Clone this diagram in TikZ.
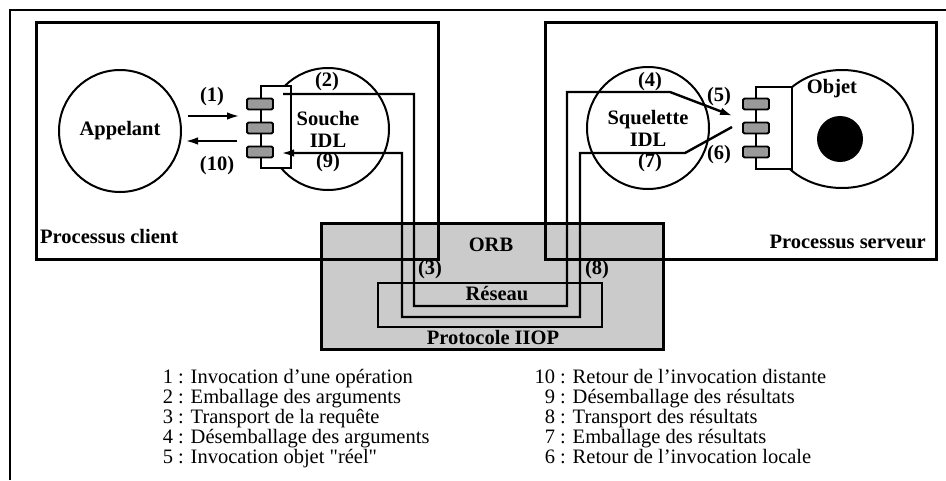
\documentclass[tikz,border=0pt]{standalone}
\usepackage{fontspec}
\setmainfont{Liberation Serif}
\usetikzlibrary{arrows.meta,calc,positioning,shapes.geometric}
\definecolor{OrbGray}{HTML}{CBCBCB}
\definecolor{PortGray}{HTML}{9A9A9A}
\newcommand{\labf}{\fontsize{20.5}{22}\selectfont\bfseries}
\newcommand{\legf}{\fontsize{20.5}{21}\selectfont}
\newcommand{\qd}{{\addfontfeature{Ligatures=TeXOff}"}}

\begin{document}
\begin{tikzpicture}[x=1pt,y=-1pt,
  box/.style={draw,line width=3.2pt,inner sep=0pt,anchor=north west},
  bubble/.style={draw,circle,line width=2pt,minimum size=122pt,inner sep=0pt,font=\labf,align=center},
  stubbox/.style={draw,fill=white,line width=2pt,minimum width=30pt,minimum height=82pt,inner sep=0pt},
  port/.style={draw,fill=PortGray,line width=1.8pt,rounded corners=1.5pt,minimum width=26pt,minimum height=11pt,inner sep=0pt},
  wire/.style={line width=2.4pt},
  tip/.style={-{Latex[length=13pt,width=7.5pt]}},
  lab/.style={font=\labf,inner sep=0pt},
  leg/.style={font=\legf,inner sep=0pt,anchor=base west}]
  \useasboundingbox (0,0) rectangle (946,480);
  \draw[line width=1.4pt] (10,480) |- (946,10);

  % ORB and processes
  \node[box,fill=OrbGray,minimum width=342pt,minimum height=126pt] (orb) at (320,222) {};
  \node[box,minimum width=402pt,minimum height=237pt] (client) at (35,21) {};
  \node[box,minimum width=391pt,minimum height=237pt] (server) at (544,21) {};
  \node[lab,anchor=west] (clientlbl) at (40,237) {Processus client};
  \node[lab,anchor=east] (serverlbl) at (926,242) {Processus serveur};

  % client side
  \node[bubble] (app) at (120,131) {Appelant};
  \node[bubble] (souche) at (328,129) {Souche\\IDL};
  \node[stubbox] (stub) at (276,127) {};
  \foreach \y/\n in {104/1,128/2,152/3}
    \node[port] (pc\n) at (260,\y) {};

  % server side
  \node[bubble] (squel) at (648,128) {Squelette\\IDL};
  \node[draw,ellipse,line width=2pt,minimum width=142pt,minimum height=118pt] (obj) at (842,129) {};
  \fill (840,139) circle (23);
  \node[lab] (objlbl) at (832,89) {Objet};
  \node[stubbox,minimum width=36pt] (adapt) at (774,128) {};
  \foreach \y/\n in {104/1,128/2,152/3}
    \node[port] (ps\n) at (756,\y) {};

  % network
  \node[draw,line width=2pt,minimum width=224pt,minimum height=44pt,inner sep=0pt] (net) at (490,305) {};
  \node[lab] (orblbl) at (491,245) {ORB};
  \node[lab] (netlbl) at (497,293) {Réseau};
  \node[lab] (iiop) at (493,337) {Protocole IIOP};

  % call and return paths
  \coordinate (a1s) at (188,116); \coordinate (a1e) at (240,116);
  \coordinate (a10s) at (237,141); \coordinate (a10e) at (185,141);
  \coordinate (reqs) at (283,94); \coordinate (reqe) at (733,116);
  \coordinate (reps) at (732,127); \coordinate (repe) at (281,153);
  \draw[wire,tip] (a1s) -- (a1e);
  \draw[wire,tip] (a10s) -- (a10e);
  \draw[wire,tip] (reqs) -- (414,94) -- (414,306) -- (567,306) -- (567,92) -- (670,92) -- (reqe);
  \draw[wire,tip] (reps) -- (685,153) -- (580,153) -- (580,317) -- (402,317) -- (402,153) -- (repe);

  % step numbers
  \foreach \n/\x/\y in {1/212/97,10/217/166,2/327/82,9/328/163,3/430/270,8/597/270,4/650/82,5/719/97,6/719/155,7/650/163}
    \node[lab] (s\n) at (\x,\y) {(\n)};

  % legend
  \foreach \n/\t [count=\i from 0] in {1/Invocation d'une opération,2/Emballage des arguments,3/Transport de la requête,4/Désemballage des arguments,5/Invocation objet \qd réel\qd}
    \node[leg] (l\n) at (178,{383+20*\i}) {\llap{\n\ }: \t};
  \foreach \n/\t [count=\i from 0] in {10/Retour de l'invocation distante,9/Désemballage des résultats,8/Transport des résultats,7/Emballage des résultats,6/Retour de l'invocation locale}
    \node[leg] (l\n) at (560,{383+20*\i}) {\llap{\n\ }: \t};
\end{tikzpicture}
\end{document}
